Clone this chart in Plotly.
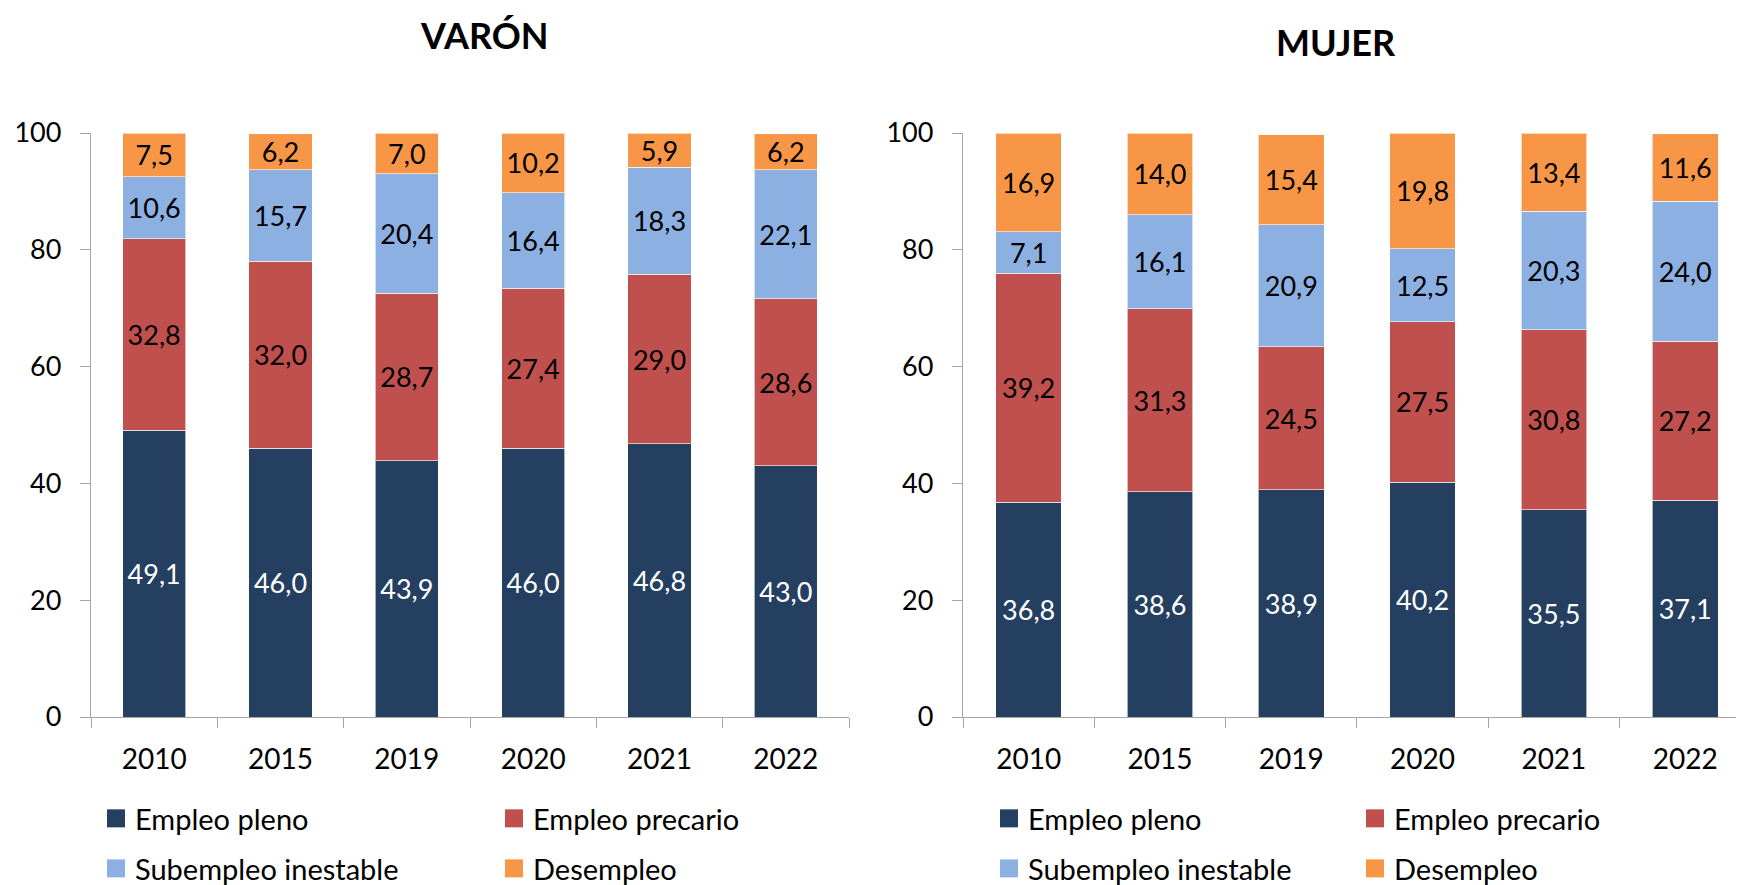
import plotly.graph_objects as go

years = ["2010", "2015", "2019", "2020", "2021", "2022"]
series_names = ["Empleo pleno", "Empleo precario", "Subempleo inestable", "Desempleo"]
colors = ["#243F60", "#C0504D", "#8DB0E2", "#F79646"]
label_colors = ["white", "black", "black", "black"]

varon_pleno = [49.1, 46.0, 43.9, 46.0, 46.8, 43.0]
varon_precario = [32.8, 32.0, 28.7, 27.4, 29.0, 28.6]
varon_subempleo = [10.6, 15.7, 20.4, 16.4, 18.3, 22.1]
varon_desempleo = [7.5, 6.2, 7.0, 10.2, 5.9, 6.2]

mujer_pleno = [36.8, 38.6, 38.9, 40.2, 35.5, 37.1]
mujer_precario = [39.2, 31.3, 24.5, 27.5, 30.8, 27.2]
mujer_subempleo = [7.1, 16.1, 20.9, 12.5, 20.3, 24.0]
mujer_desempleo = [16.9, 14.0, 15.4, 19.8, 13.4, 11.6]

titles = ["VARÓN", "MUJER"]
y_ticks = [0, 20, 40, 60, 80, 100]

OFF = 8  # page body margin
W, H = 1744 - OFF, 885 - OFF
L, R, T = 91 - OFF, 0, 133 - OFF
PLOT_BOTTOM = 716.7 - OFF
B = H - PLOT_BOTTOM
PW = W - L - R
PH = H - T - B
FONT = "Lato, 'Open Sans', sans-serif"


def px_x(px):
    return (px - OFF - L) / PW


def px_y(py):
    return (PLOT_BOTTOM - (py - OFF)) / PH


def fmt(v):
    return f"{v:.1f}".replace(".", ",")


fig = go.Figure()
groups = [
    ([varon_pleno, varon_precario, varon_subempleo, varon_desempleo], "x", "y"),
    ([mujer_pleno, mujer_precario, mujer_subempleo, mujer_desempleo], "x2", "y2"),
]
for vals, xa, ya in groups:
    for i, (name, v) in enumerate(zip(series_names, vals)):
        fig.add_trace(go.Bar(
            x=years, y=v, name=name, xaxis=xa, yaxis=ya,
            marker=dict(color=colors[i], line=dict(color="rgba(255,255,255,0.6)", width=1)),
            text=[fmt(a) for a in v], textposition="inside", insidetextanchor="middle",
            textangle=0, constraintext="none",
            textfont=dict(family=FONT, size=27, color=label_colors[i]),
            showlegend=False, hoverinfo="x+y+name",
        ))

axis_common = dict(showline=True, linecolor="#A6A6A6", linewidth=1.3, showgrid=False,
                   zeroline=False, ticks="outside", tickcolor="#A6A6A6", ticklen=10,
                   tickwidth=1.3)

fig.update_layout(
    width=W, height=H,
    margin=dict(l=L, r=R, t=T, b=B),
    paper_bgcolor="white", plot_bgcolor="white",
    barmode="stack", bargap=0.5,
    font=dict(family=FONT, color="black"),
    xaxis=dict(domain=[0, px_x(849)], range=[-0.5, 5.5], type="category", tickson="boundaries",
               tickfont=dict(size=28), ticklabelstandoff=17, anchor="y", **axis_common),
    xaxis2=dict(domain=[px_x(963), 1.0], range=[-0.5, 5.448], type="category", tickson="boundaries",
                tickfont=dict(size=28), ticklabelstandoff=17, anchor="y2", **axis_common),
    yaxis=dict(domain=[0, 1], range=[0, 100], tickvals=y_ticks, tickfont=dict(size=27),
               ticklabelstandoff=13, anchor="x", **axis_common),
    yaxis2=dict(domain=[0, 1], range=[0, 100], tickvals=y_ticks, tickfont=dict(size=27),
                ticklabelstandoff=13, anchor="x2", **axis_common),
)

# Titles
for text, cx, cy in [(titles[0], 484.5, 35), (titles[1], 1335.5, 42)]:
    fig.add_annotation(text=f"<b>{text}</b>", x=px_x(cx), y=px_y(cy), xref="paper", yref="paper",
                       xanchor="center", yanchor="middle", showarrow=False,
                       font=dict(family=FONT, size=36, color="black"))

# Legends (two per chart, 2x2 grid)
legend_cols = [(107, 505), (1000, 1366)]
legend_rows = [818, 868]
order = [(0, 0, 0), (1, 0, 1), (2, 1, 0), (3, 1, 1)]
for cols in legend_cols:
    for idx, r, c in order:
        sx = cols[c]
        sy = legend_rows[r]
        fig.add_shape(type="rect", xref="paper", yref="paper",
                      x0=px_x(sx), x1=px_x(sx + 18), y0=px_y(sy - 9), y1=px_y(sy + 9),
                      fillcolor=colors[idx], line=dict(width=0))
        fig.add_annotation(text=series_names[idx], x=px_x(sx + 26), y=px_y(sy),
                           xref="paper", yref="paper", xanchor="left", yanchor="middle",
                           showarrow=False, font=dict(family=FONT, size=29, color="black"))

fig.write_html("out.html")
